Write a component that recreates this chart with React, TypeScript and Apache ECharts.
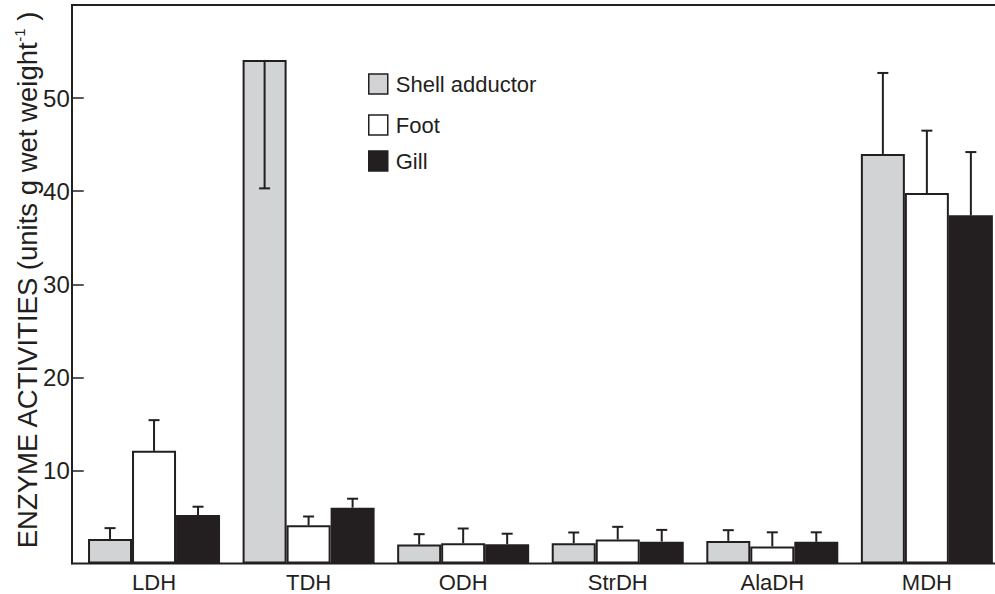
import React, { useEffect, useRef } from 'react';
import * as echarts from 'echarts';

const categories = ['LDH', 'TDH', 'ODH', 'StrDH', 'AlaDH', 'MDH'];
const seriesNames = ['Shell adductor', 'Foot', 'Gill'];
const shellAdductor = [2.64, 54.1, 2.03, 2.18, 2.43, 44.0];
const foot = [12.1, 4.1, 2.18, 2.57, 1.83, 39.8];
const gill = [5.2, 6.0, 2.07, 2.35, 2.33, 37.4];
// end points of the error bars (TDH shell adductor is drawn downward)
const shellErrEnd = [3.8, 40.3, 3.15, 3.33, 3.58, 52.7];
const footErrEnd = [15.4, 5.05, 3.76, 3.94, 3.35, 46.5];
const gillErrEnd = [6.1, 6.96, 3.2, 3.61, 3.35, 44.2];

const INK = '#231f20';
const GRAY = '#d1d3d4';
const FONT = 'Liberation Sans, Arial, Helvetica, sans-serif';
const BAR_W = 44;

function errSeries(idx: number, vals: number[], ends: number[], offset: number) {
  return {
    type: 'custom',
    name: seriesNames[idx] + ' SD',
    silent: true,
    z: 5,
    encode: { x: 0, y: [1, 2] },
    data: vals.map((v, i) => [i, v, ends[i]]),
    renderItem: (_params: any, api: any) => {
      const c = api.value(0);
      const p1 = api.coord([c, api.value(1)]);
      const p2 = api.coord([c, api.value(2)]);
      const x = p1[0] + offset;
      const style = { stroke: INK, lineWidth: 2 };
      return {
        type: 'group',
        children: [
          { type: 'line', shape: { x1: x, y1: p1[1], x2: x, y2: p2[1] }, style },
          { type: 'line', shape: { x1: x - 5.5, y1: p2[1], x2: x + 5.5, y2: p2[1] }, style },
        ],
      };
    },
  };
}

function legendAt(name: string, top: number, fill: string) {
  return {
    data: [{ name, itemStyle: { color: fill, borderColor: INK, borderWidth: 1.5 } }],
    left: 368,
    top,
    padding: 0,
    icon: 'rect',
    itemWidth: 19,
    itemHeight: 20,
    selectedMode: false,
    textStyle: { fontSize: 22, color: INK, fontFamily: FONT, lineHeight: 20, padding: [0, 0, 0, 3] },
  };
}

export default function App() {
  const ref = useRef<HTMLDivElement>(null);
  useEffect(() => {
    if (!ref.current) return;
    const chart = echarts.init(ref.current, null, { renderer: 'svg' });
    const barStyle = (color: string) => ({ color, borderColor: INK, borderWidth: 2 });
    chart.setOption({
      animation: false,
      backgroundColor: '#fff',
      textStyle: { fontFamily: FONT },
      grid: { left: 76.75, right: -9.15, top: 5, bottom: 30.5, outerBoundsMode: 'none', containLabel: false },
      legend: [
        legendAt('Shell adductor', 73, GRAY),
        legendAt('Foot', 114, '#ffffff'),
        legendAt('Gill', 150, INK),
      ],
      xAxis: {
        type: 'category',
        data: categories,
        axisLine: { show: false },
        axisTick: { show: false },
        axisLabel: { fontSize: 22, color: INK, margin: 8, fontFamily: FONT },
      },
      yAxis: {
        type: 'value',
        min: 0,
        max: 60,
        interval: 10,
        offset: 5,
        splitLine: { show: false },
        axisLine: { show: true, lineStyle: { color: INK, width: 2 } },
        axisTick: { show: true, inside: true, length: 12, lineStyle: { color: INK, width: 1.5 } },
        axisLabel: {
          fontSize: 24,
          color: INK,
          margin: 2,
          fontFamily: FONT,
          showMinLabel: false,
          showMaxLabel: false,
          formatter: (v: number) => (v === 0 || v === 60 ? '' : String(v)),
        },
        name: '{a|ENZYME ACTIVITIES (units g wet weight}{s|-1}{a| )}',
        nameLocation: 'middle',
        nameGap: 29,
        nameMoveOverlap: false,
        nameTextStyle: {
          padding: [0, 0, 0, 8],
          rich: {
            a: { fontSize: 27.5, lineHeight: 31, color: INK, fontFamily: FONT },
            s: { fontSize: 15, lineHeight: 15, verticalAlign: 'top', color: INK, fontFamily: FONT },
          },
        },
      },
      graphic: [
        { type: 'line', shape: { x1: 71, y1: 5, x2: 995, y2: 5 }, style: { stroke: INK, lineWidth: 2 }, silent: true },
        { type: 'line', shape: { x1: 71, y1: 563.5, x2: 995, y2: 563.5 }, style: { stroke: INK, lineWidth: 2 }, silent: true },
      ],
      series: [
        { type: 'bar', name: seriesNames[0], data: shellAdductor, barWidth: BAR_W, barGap: '0%', itemStyle: barStyle(GRAY) },
        { type: 'bar', name: seriesNames[1], data: foot, barWidth: BAR_W, barGap: '0%', itemStyle: barStyle('#ffffff') },
        { type: 'bar', name: seriesNames[2], data: gill, barWidth: BAR_W, barGap: '0%', itemStyle: barStyle(INK) },
        errSeries(0, shellAdductor, shellErrEnd, -BAR_W),
        errSeries(1, foot, footErrEnd, 0),
        errSeries(2, gill, gillErrEnd, BAR_W),
      ],
    });
    return () => chart.dispose();
  }, []);
  return <div ref={ref} style={{ position: 'absolute', left: 0, top: 0, width: 995, height: 594 }} />;
}
